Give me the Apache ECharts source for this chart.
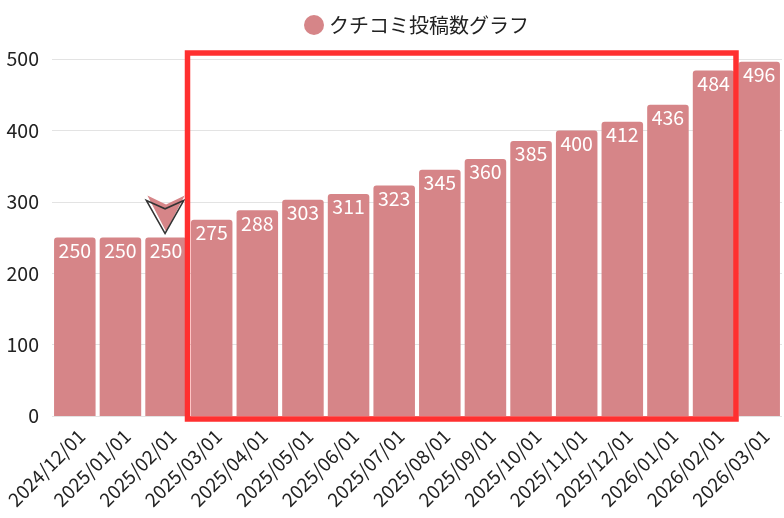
<!DOCTYPE html>
<html>
<head>
<meta charset="utf-8">
<script src="https://cdn.jsdelivr.net/npm/echarts@6/dist/echarts.min.js"></script>
<style>
html,body{margin:0;padding:0;background:#fff;}
#chart{width:784px;height:518px;}
</style>
</head>
<body>
<div id="chart"></div>
<script>
const categories = ['2024/12/01','2025/01/01','2025/02/01','2025/03/01','2025/04/01','2025/05/01','2025/06/01','2025/07/01','2025/08/01','2025/09/01','2025/10/01','2025/11/01','2025/12/01','2026/01/01','2026/02/01','2026/03/01'];
const reviewCounts = [250,250,250,275,288,303,311,323,345,360,385,400,412,436,484,496];
const seriesName = 'クチコミ投稿数グラフ';
const yTicks = [0,100,200,300,400,500];
const markedIndex = 2;

const FONT = '"Noto Sans CJK JP", "Noto Sans", sans-serif';
const BAR = '#d68588';

const chart = echarts.init(document.getElementById('chart'));
chart.setOption({
  animation: false,
  textStyle: { fontFamily: FONT },
  legend: {
    top: 10,
    left: 299,
    icon: 'circle',
    itemWidth: 20,
    itemHeight: 20,
    itemGap: 10,
    textStyle: { fontSize: 20, color: '#222', fontFamily: FONT },
    data: [seriesName]
  },
  grid: { left: 52, right: 2, top: 59, bottom: 102, containLabel: false, outerBoundsMode: 'none' },
  xAxis: {
    type: 'category',
    data: categories,
    axisLine: { show: false },
    axisTick: { show: false },
    axisLabel: { rotate: 45, fontSize: 19, color: '#222', margin: 10, verticalAlign: 'top', interval: 0, fontFamily: FONT }
  },
  yAxis: {
    type: 'value',
    min: yTicks[0],
    max: yTicks[yTicks.length - 1],
    interval: 100,
    axisLabel: { fontSize: 19.5, color: '#222', margin: 13, fontFamily: FONT },
    splitLine: { lineStyle: { color: '#e3e3e3' } }
  },
  series: [{
    name: seriesName,
    type: 'bar',
    data: reviewCounts,
    barCategoryGap: '9%',
    itemStyle: { color: BAR, borderRadius: [3,3,0,0] },
    label: { show: true, position: 'insideTop', distance: 3, color: '#fff', fontSize: 19.5, fontFamily: FONT },
    markPoint: {
      silent: true,
      label: { show: false },
      data: [
        { coord: [markedIndex, reviewCounts[markedIndex]], symbol: 'arrow', symbolSize: [28, 36], symbolRotate: 180, symbolOffset: [0, -6], itemStyle: { color: BAR } },
        { coord: [markedIndex, reviewCounts[markedIndex]], symbol: 'arrow', symbolSize: [28, 33], symbolRotate: 180, symbolOffset: [-1, -4], itemStyle: { color: 'rgba(0,0,0,0)', borderColor: '#333', borderWidth: 1.6 } }
      ]
    }
  }],
  graphic: [{
    type: 'rect',
    silent: true,
    z: 100,
    shape: { x: 187.5, y: 53, width: 548.5, height: 366 },
    style: { fill: 'none', stroke: '#ff3030', lineWidth: 5.5 }
  }]
});
</script>
</body>
</html>
